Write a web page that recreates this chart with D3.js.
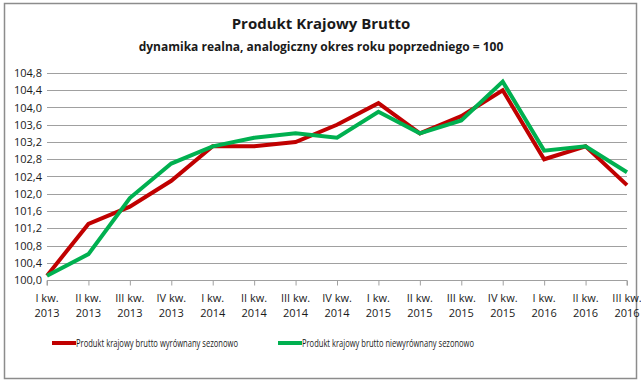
<!DOCTYPE html>
<html>
<head>
<meta charset="utf-8">
<script src="https://cdn.jsdelivr.net/npm/d3@7"></script>
<style>
  body { margin: 0; background: #fff; }
  svg { font-family: "Open Sans", "Noto Sans", sans-serif; }
</style>
</head>
<body>
<svg width="641" height="383"></svg>
<script>
const quarters = ["I kw.", "II kw.", "III kw.", "IV kw.", "I kw.", "II kw.", "III kw.", "IV kw.",
                  "I kw.", "II kw.", "III kw.", "IV kw.", "I kw.", "II kw.", "III kw."];
const years = ["2013", "2013", "2013", "2013", "2014", "2014", "2014", "2014",
               "2015", "2015", "2015", "2015", "2016", "2016", "2016"];
const seasonallyAdjusted = [100.1, 101.3, 101.7, 102.3, 103.1, 103.1, 103.2, 103.6,
                            104.1, 103.4, 103.8, 104.4, 102.8, 103.1, 102.2];
const notAdjusted = [100.1, 100.6, 101.9, 102.7, 103.1, 103.3, 103.4, 103.3,
                     103.9, 103.4, 103.7, 104.6, 103.0, 103.1, 102.5];
const yTicks = [100.0, 100.4, 100.8, 101.2, 101.6, 102.0, 102.4, 102.8, 103.2, 103.6, 104.0, 104.4, 104.8];
const seriesNames = ["Produkt krajowy brutto wyrównany sezonowo", "Produkt krajowy brutto niewyrównany sezonowo"];
const seriesColors = ["#c00000", "#00b050"];

const svg = d3.select("svg");

// chart frame
svg.append("rect")
    .attr("x", 4.5).attr("y", 3.5)
    .attr("width", 632).attr("height", 375)
    .attr("fill", "#fff")
    .attr("stroke", "#8c8c8c")
    .attr("stroke-width", 1.5);

svg.append("text")
    .attr("x", 321).attr("y", 29)
    .attr("text-anchor", "middle")
    .attr("font-size", 15).attr("font-weight", "bold")
    .attr("fill", "#1a1a1a")
    .text("Produkt Krajowy Brutto");

svg.append("text")
    .attr("x", 321).attr("y", 51)
    .attr("text-anchor", "middle")
    .attr("font-size", 12).attr("font-weight", "bold")
    .attr("fill", "#1a1a1a")
    .text("dynamika realna, analogiczny okres roku poprzedniego = 100");

const plotLeft = 47, plotRight = 627, plotTop = 73, plotBottom = 280;
const idx = d3.range(quarters.length);

const x = d3.scalePoint().domain(idx).range([plotLeft, plotRight]);
const y = d3.scaleLinear().domain([100.0, 104.8]).range([plotBottom, plotTop]);
const fmt = v => d3.format(".1f")(v).replace(".", ",");

// gridlines
svg.append("g")
    .selectAll("line")
    .data(yTicks.slice(1))
    .join("line")
    .attr("x1", plotLeft).attr("x2", plotRight)
    .attr("y1", d => Math.round(y(d)) + 0.5).attr("y2", d => Math.round(y(d)) + 0.5)
    .attr("stroke", "#a0a0a0")
    .attr("stroke-width", 1);

// y axis labels
const yAxis = svg.append("g")
    .attr("transform", `translate(${plotLeft},0)`)
    .call(d3.axisLeft(y).tickValues(yTicks).tickFormat(fmt).tickSize(0).tickPadding(5));
yAxis.select(".domain").remove();
yAxis.selectAll("text").attr("font-size", 11).attr("fill", "#1a1a1a")
    .attr("font-family", "'Open Sans', sans-serif");

// x axis
const xAxis = svg.append("g")
    .attr("transform", `translate(0,${Math.round(plotBottom) + 0.5})`)
    .call(d3.axisBottom(x).tickSize(5).tickFormat(""));
xAxis.select(".domain").attr("stroke", "#a0a0a0").attr("d", `M${plotLeft},5V0H${plotRight}V5`);
xAxis.selectAll(".tick line").attr("stroke", "#a0a0a0");

const labels = svg.append("g")
    .selectAll("text")
    .data(idx)
    .join("text")
    .attr("x", d => x(d))
    .attr("y", 302)
    .attr("text-anchor", "middle")
    .attr("font-size", 11)
    .attr("fill", "#1a1a1a");
labels.append("tspan").attr("x", d => x(d)).text(d => quarters[d]);
labels.append("tspan").attr("x", d => x(d)).attr("dy", 15).text(d => years[d]);

// lines
const line = d3.line()
    .x((d, i) => x(i))
    .y(d => y(d));

[seasonallyAdjusted, notAdjusted].forEach((series, k) => {
    svg.append("path")
        .attr("d", line(series))
        .attr("fill", "none")
        .attr("stroke", seriesColors[k])
        .attr("stroke-width", 4)
        .attr("stroke-linejoin", "miter");
});

// legend (Calibri-like narrow text, squeezed to the original width)
const legendX = [52, 278];
const legendTextWidth = [162, 172];
seriesNames.forEach((name, k) => {
    const g = svg.append("g").attr("transform", `translate(${legendX[k]},343)`);
    g.append("line")
        .attr("x1", 0).attr("x2", 24)
        .attr("stroke", seriesColors[k])
        .attr("stroke-width", 4);
    g.append("text")
        .attr("x", 24).attr("y", 3.5)
        .attr("font-size", 10)
        .attr("textLength", legendTextWidth[k])
        .attr("lengthAdjust", "spacingAndGlyphs")
        .attr("fill", "#1a1a1a")
        .text(name);
});
</script>
</body>
</html>
